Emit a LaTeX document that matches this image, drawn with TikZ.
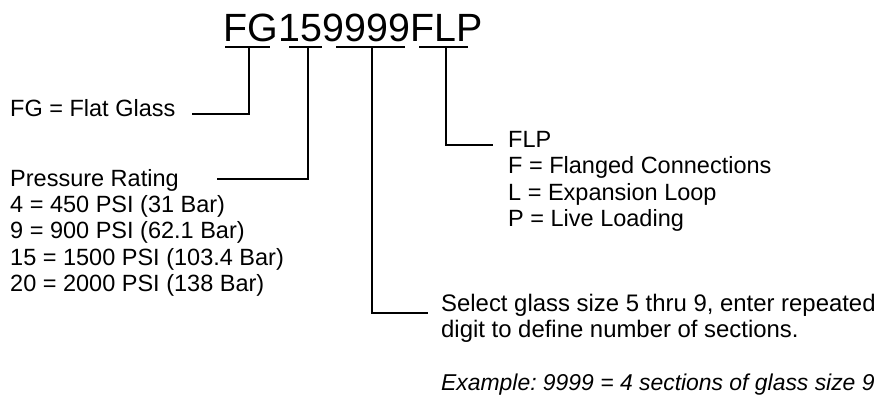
\documentclass[tikz,border=0pt]{standalone}
\usepackage{fontspec}
\setmainfont{Liberation Sans}
\frenchspacing
\begin{document}
\begin{tikzpicture}[x=1pt,y=-1pt,
  lbl/.style={anchor=base west,inner sep=0pt,font=\fontsize{23.5}{26.3}\selectfont,text=black},
  ttl/.style={anchor=base west,inner sep=0pt,font=\fontsize{39.4}{41}\selectfont,text=black},
  conn/.style={draw=black,line width=1.5pt,line cap=rect,line join=miter},
  uline/.style={draw=black,line width=1.5pt}]
\useasboundingbox (0,0) rectangle (880,400);
% title pieces
\node[ttl] (tFG) at (223,41) {FG};
\node[ttl] (t15) at (tFG.base east) {15};
\node[ttl] (t9) at (t15.base east) {9999};
\node[ttl] (tFLP) at (t9.base east) {FLP};
% underline coordinates
\coordinate (uFGa) at (225,47); \coordinate (uFGb) at (270,47); \coordinate (uFGm) at (249,47);
\coordinate (u15a) at (289,47); \coordinate (u15b) at (322,47); \coordinate (u15m) at (308,47);
\coordinate (u9a) at (336,47); \coordinate (u9b) at (405,47); \coordinate (u9m) at (372,47);
\coordinate (uFLPa) at (419,47); \coordinate (uFLPb) at (468,47); \coordinate (uFLPm) at (446,47);
\draw[uline] (uFGa) -- (uFGb);
\draw[uline] (u15a) -- (u15b);
\draw[uline] (u9a) -- (u9b);
\draw[uline] (uFLPa) -- (uFLPb);
% left texts
\node[lbl] (fg) at (10,116) {FG = Flat Glass};
\node[lbl] (pr) at (10,186) {Pressure Rating};
\node[lbl] (p4) at (10,212) {4 = 450 PSI (31 Bar)};
\node[lbl] (p9) at (10,238) {9 = 900 PSI (62.1 Bar)};
\node[lbl] (p15) at (10,265) {15 = 1500 PSI (103.4 Bar)};
\node[lbl] (p20) at (10,291) {20 = 2000 PSI (138 Bar)};
% FLP texts
\node[lbl] (flp) at (508,147) {FLP};
\node[lbl] (flpF) at (508,173) {F = Flanged Connections};
\node[lbl] (flpL) at (508,200) {L = Expansion Loop};
\node[lbl] (flpP) at (508,226) {P = Live Loading};
% sections texts
\node[lbl,font=\fontsize{23.9}{26.3}\selectfont] (sel1) at (441,311) {Select glass size 5 thru 9, enter repeated};
\node[lbl,font=\fontsize{23.9}{26.3}\selectfont] (sel2) at (441,337) {digit to define number of sections.};
\node[lbl,font=\fontsize{22.9}{26.3}\selectfont\itshape] (ex) at (441,390) {Example: 9999 = 4 sections of glass size 9};
% connector ends
\coordinate (eFG) at (193,114);
\coordinate (e15) at (218,179);
\coordinate (e9) at (427,313);
\coordinate (eFLP) at (492,145);
\draw[conn] (uFGm) |- (eFG);
\draw[conn] (u15m) |- (e15);
\draw[conn] (u9m) |- (e9);
\draw[conn] (uFLPm) |- (eFLP);
\end{tikzpicture}
\end{document}
